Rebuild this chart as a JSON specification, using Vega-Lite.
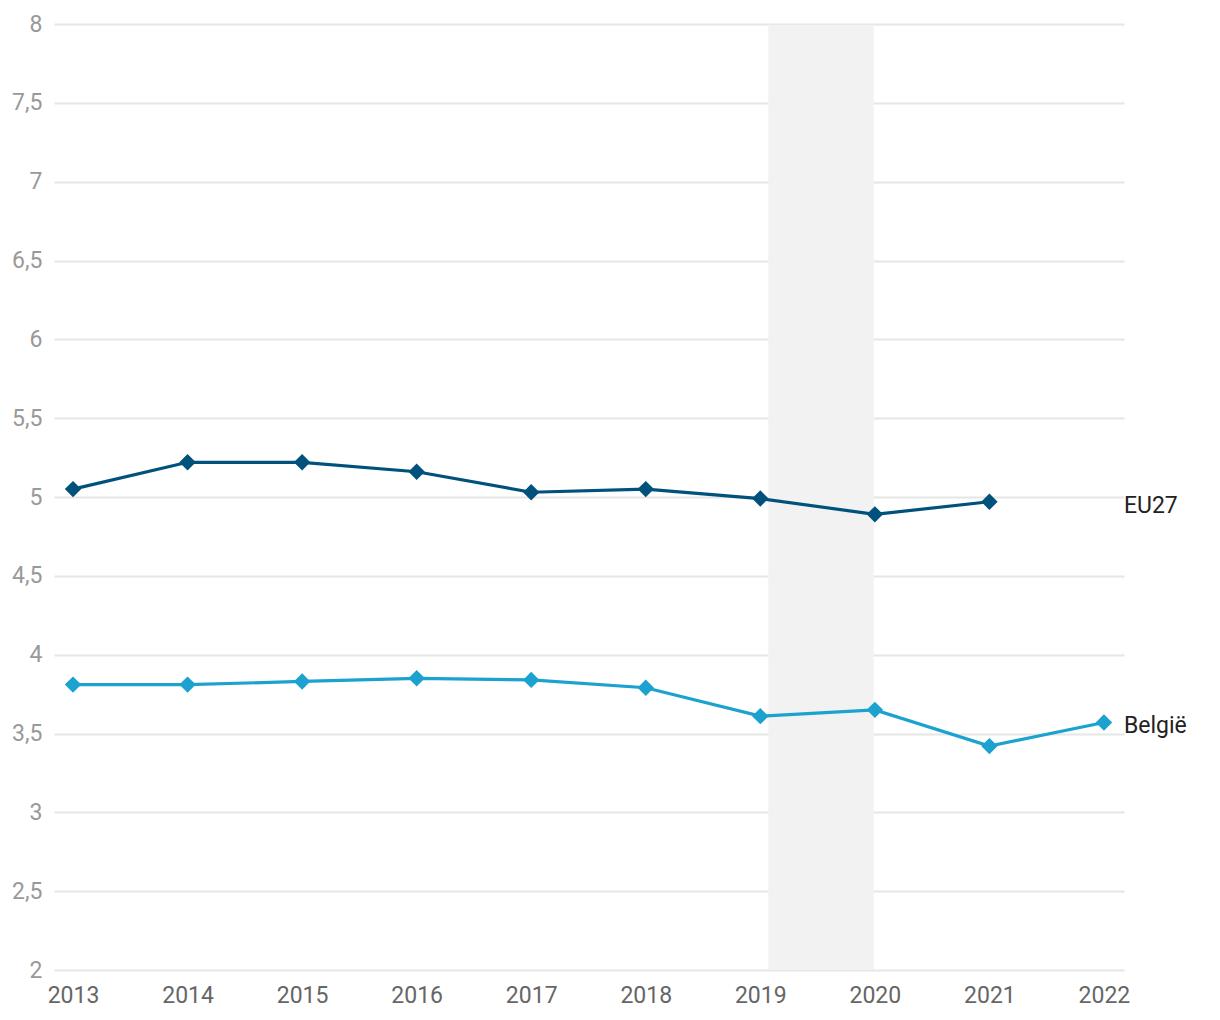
{
  "$schema": "https://vega.github.io/schema/vega-lite/v6.json",
  "width": 1070,
  "height": 946,
  "autosize": {"type": "none"},
  "padding": {"left": 54, "top": 24, "right": 96, "bottom": 50},
  "background": "#ffffff",
  "config": {
    "view": {"stroke": null},
    "font": "Roboto",
    "axis": {"labelFont": "Roboto", "labelFontSize": 23, "domain": false, "ticks": false, "title": null}
  },
  "datasets": {
    "series": [
      {"series": "EU27", "year": 2013, "value": 5.05},
      {"series": "EU27", "year": 2014, "value": 5.22},
      {"series": "EU27", "year": 2015, "value": 5.22},
      {"series": "EU27", "year": 2016, "value": 5.16},
      {"series": "EU27", "year": 2017, "value": 5.03},
      {"series": "EU27", "year": 2018, "value": 5.05},
      {"series": "EU27", "year": 2019, "value": 4.99},
      {"series": "EU27", "year": 2020, "value": 4.89},
      {"series": "EU27", "year": 2021, "value": 4.97},
      {"series": "België", "year": 2013, "value": 3.81},
      {"series": "België", "year": 2014, "value": 3.81},
      {"series": "België", "year": 2015, "value": 3.83},
      {"series": "België", "year": 2016, "value": 3.85},
      {"series": "België", "year": 2017, "value": 3.84},
      {"series": "België", "year": 2018, "value": 3.79},
      {"series": "België", "year": 2019, "value": 3.61},
      {"series": "België", "year": 2020, "value": 3.65},
      {"series": "België", "year": 2021, "value": 3.42},
      {"series": "België", "year": 2022, "value": 3.57}
    ],
    "band": [{"start": 2019.07, "end": 2019.99, "low": 2, "high": 7.995}]
  },
  "layer": [
    {
      "data": {"name": "band"},
      "mark": {"type": "rect", "color": "#f2f2f2"},
      "encoding": {
        "x": {"field": "start", "type": "quantitative", "scale": {"domain": [2012.834, 2022.175], "nice": false, "zero": false}},
        "x2": {"field": "end"},
        "y": {"field": "low", "type": "quantitative", "scale": {"domain": [2, 8], "nice": false, "zero": false}},
        "y2": {"field": "high"}
      }
    },
    {
      "data": {"name": "series"},
      "mark": {"type": "line", "strokeWidth": 3.2, "point": {"shape": "diamond", "size": 270, "filled": true, "opacity": 1}},
      "encoding": {
        "x": {
          "field": "year", "type": "quantitative",
          "scale": {"domain": [2012.834, 2022.175], "nice": false, "zero": false},
          "axis": {"values": [2013, 2014, 2015, 2016, 2017, 2018, 2019, 2020, 2021, 2022], "format": "d", "grid": false, "labelColor": "#666666", "labelPadding": 14}
        },
        "y": {
          "field": "value", "type": "quantitative",
          "scale": {"domain": [2, 8], "nice": false, "zero": false},
          "axis": {"values": [2, 2.5, 3, 3.5, 4, 4.5, 5, 5.5, 6, 6.5, 7, 7.5, 8], "labelExpr": "replace(format(datum.value, ''), '.', ',')", "grid": true, "gridColor": "#e6e6e6", "gridWidth": 2, "labelColor": "#999999", "labelPadding": 12}
        },
        "color": {"field": "series", "type": "nominal", "scale": {"domain": ["EU27", "België"], "range": ["#00527c", "#1ba2cf"]}, "legend": null}
      }
    },
    {
      "data": {"name": "series"},
      "transform": [
        {"aggregate": [{"op": "argmax", "field": "year", "as": "last"}], "groupby": ["series"]},
        {"calculate": "datum.last.value", "as": "lastValue"}
      ],
      "mark": {"type": "text", "align": "left", "baseline": "middle", "dx": 20, "dy": 4, "fontSize": 23, "color": "#222222"},
      "encoding": {
        "x": {"datum": 2022, "type": "quantitative"},
        "y": {"field": "lastValue", "type": "quantitative"},
        "text": {"field": "series"}
      }
    }
  ]
}
